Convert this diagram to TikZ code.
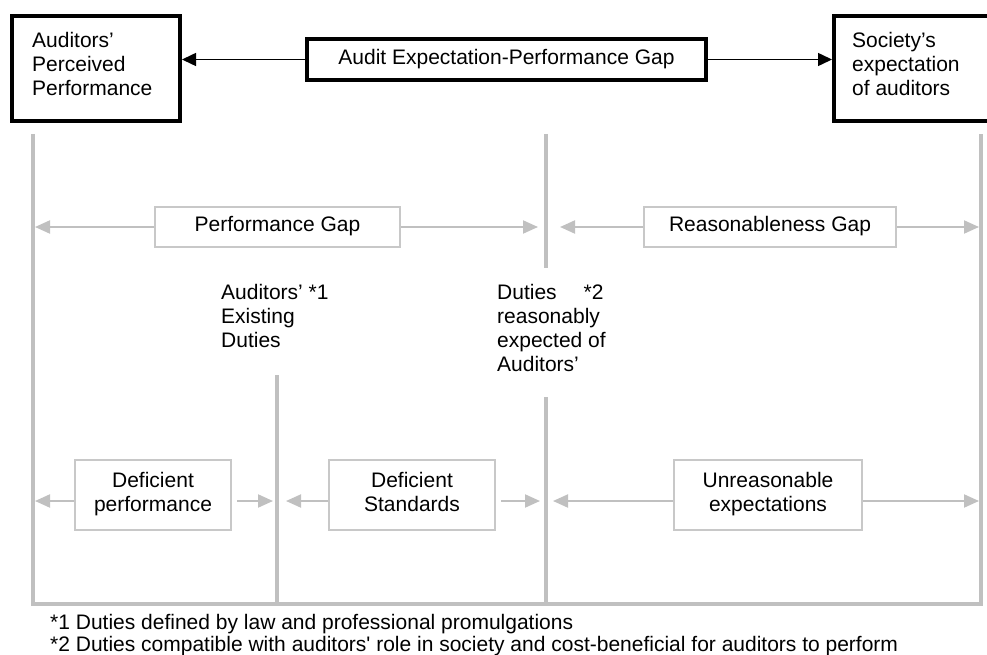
\documentclass[tikz,border=0pt]{standalone}
\usepackage{fontspec}
\setmainfont{Liberation Sans}
\usetikzlibrary{arrows.meta}
\definecolor{gline}{RGB}{192,192,192}
\definecolor{gbox}{RGB}{200,200,200}
\tikzset{
  fnt/.style={font=\fontsize{21}{24}\selectfont},
  blackbox/.style={draw=black, line width=4pt, inner sep=0pt},
  titlebox/.style={draw=black, line width=3.5pt, inner sep=0pt, fnt},
  graybox/.style={draw=gbox, line width=2pt, inner sep=0pt, fnt, align=center,
    execute at begin node=\strut, execute at end node=\strut},
  gstroke/.style={draw=gline, line width=3.5pt},
  garrow/.style={draw=gline, line width=2pt, -{Triangle[length=15pt,width=13pt]}},
  barrow/.style={draw=black, line width=1.5pt, -{Triangle[length=14pt,width=13pt]}},
  lbl/.style={fnt, anchor=north west, align=left, inner sep=0pt},
  foot/.style={fnt, anchor=base west, inner sep=0pt},
}
\begin{document}
\begin{tikzpicture}[x=1pt,y=-1pt]
\clip (0,0) rectangle (987,655);
% top boxes
\node[blackbox, minimum width=168pt, minimum height=105pt] (perc) at (96,68.5) {};
\node[lbl] (perctext) at (32,30.2) {\strut Auditors’\\Perceived\\Performance};
\node[blackbox, minimum width=166pt, minimum height=105pt] (soc) at (917,68.5) {};
\node[lbl] (soctext) at (852,30.2) {\strut Society’s\\expectation\\of auditors};
\node[titlebox, minimum width=399pt, minimum height=41pt] (title) at (506.5,59.5) {Audit Expectation-Performance Gap};
\draw[barrow] (title.west) -- (title.west -| perc.east);
\draw[barrow] (title.east) -- (title.east -| soc.west);
% gray frame
\coordinate (Ltop) at (33,134);
\coordinate (Lbot) at (33,604);
\coordinate (Rbot) at (981,604);
\coordinate (Rtop) at (981,134);
\coordinate (Mtop) at (546,134);
\coordinate (Mmid1) at (546,268);
\coordinate (Mmid2) at (546,397);
\coordinate (Mbot) at (546,604);
\coordinate (Etop) at (277,375);
\coordinate (Ebot) at (277,604);
\draw[gstroke, line join=miter] (Ltop) -- (Lbot) -- (Rbot) -- (Rtop);
\draw[gstroke] (Mtop) -- (Mmid1);
\draw[gstroke] (Mmid2) -- (Mbot);
\draw[gstroke] (Etop) -- (Ebot);
% row 1
\node[graybox, minimum width=245pt, minimum height=40pt] (pg) at (277.5,227) {Performance Gap};
\node[graybox, minimum width=252pt, minimum height=40pt] (rg) at (770,227) {Reasonableness Gap};
\coordinate (t1l) at (35,227);
\coordinate (t1r) at (538,227);
\coordinate (t2l) at (560,227);
\coordinate (t2r) at (979,227);
\draw[garrow] (pg.west) -- (t1l);
\draw[garrow] (pg.east) -- (t1r);
\draw[garrow] (rg.west) -- (t2l);
\draw[garrow] (rg.east) -- (t2r);
% labels
\node[lbl] (exist) at (221,282.2) {\strut Auditors’ *1\\Existing\\Duties};
\node[lbl] (reas) at (497,282.2) {\strut Duties\hspace{27pt}*2\\reasonably\\expected of\\Auditors’};
% row 2
\node[graybox, minimum width=156pt, minimum height=70pt] (dp) at (153,495) {Deficient\\performance};
\node[graybox, minimum width=166pt, minimum height=70pt] (ds) at (412,495) {Deficient\\Standards};
\node[graybox, minimum width=188pt, minimum height=70pt] (ue) at (768,495) {Unreasonable\\expectations};
\coordinate (u1l) at (35,501);
\coordinate (u1r) at (273,501);
\coordinate (u2l) at (286,501);
\coordinate (u2r) at (540,501);
\coordinate (u3l) at (553,501);
\coordinate (u3r) at (979,501);
\draw[garrow] ([yshift=-6pt]dp.west) -- (u1l);
\draw[garrow] ([xshift=5pt,yshift=-6pt]dp.east) -- (u1r);
\draw[garrow] ([yshift=-6pt]ds.west) -- (u2l);
\draw[garrow] ([xshift=5pt,yshift=-6pt]ds.east) -- (u2r);
\draw[garrow] ([yshift=-6pt]ue.west) -- (u3l);
\draw[garrow] ([yshift=-6pt]ue.east) -- (u3r);
% footnotes
\node[foot] (fn1) at (50,629) {*1 Duties defined by law and professional promulgations};
\node[foot] (fn2) at (50,651) {*2 Duties compatible with auditors\textquotesingle{} role in society and cost-beneficial for auditors to perform};
\end{tikzpicture}
\end{document}
